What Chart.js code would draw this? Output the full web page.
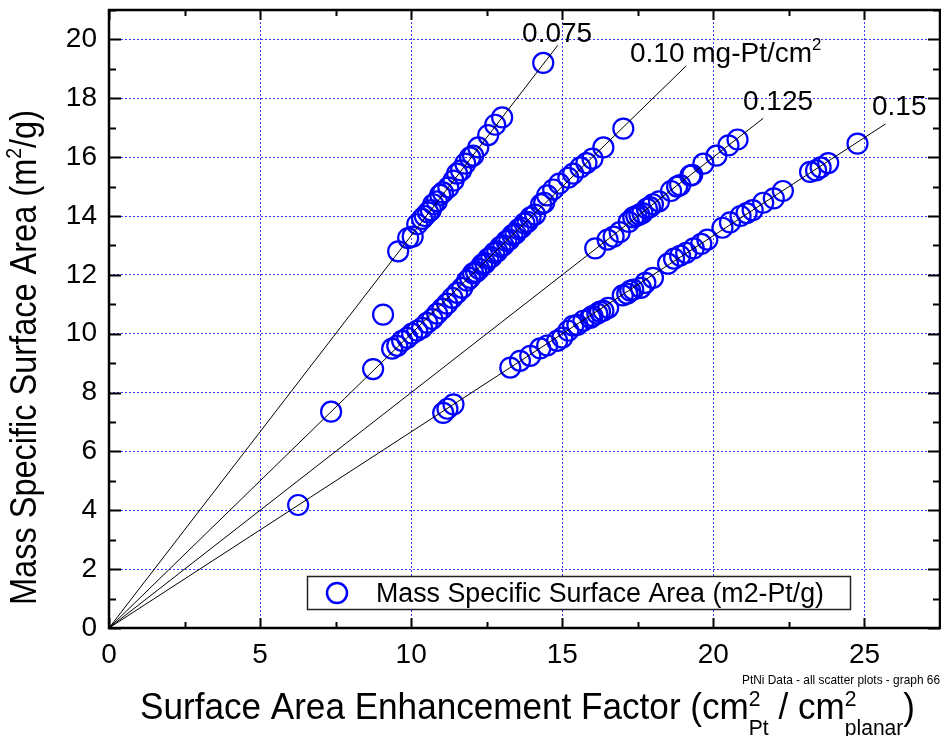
<!DOCTYPE html>
<html>
<head>
<meta charset="utf-8">
<script src="https://cdn.jsdelivr.net/npm/chart.js@4.4.1/dist/chart.umd.min.js"></script>
<style>
  html, body { margin: 0; padding: 0; background: #ffffff; }
  canvas { display: block; }
</style>
</head>
<body>
<canvas id="chart" width="941" height="736"></canvas>
<script>
// Surface area enhancement factor (cm2 Pt / cm2 planar) for each sample
const sefValues = [
  // ~0.075 mg/cm2 electrodes
  9.57, 9.9, 10.05, 10.2, 10.36, 10.45, 10.56, 10.65, 10.73, 10.85, 10.96, 11.05,
  11.23, 11.4, 11.52, 11.65, 11.79, 11.95, 12.05, 12.22, 12.55, 12.78, 13.01, 14.37,
  // stray sample
  9.07,
  // ~0.10 mg/cm2 electrodes
  7.35, 8.74, 9.37, 9.54, 9.7, 9.87, 10.03, 10.2, 10.36, 10.53, 10.7, 10.86,
  11.03, 11.19, 11.36, 11.52, 11.69, 11.85, 11.95, 12.05, 12.15, 12.25, 12.35, 12.45,
  12.55, 12.65, 12.75, 12.85, 12.95, 13.05, 13.15, 13.25, 13.35, 13.45, 13.55, 13.65,
  13.75, 13.85, 13.95, 14.1, 14.3, 14.4, 14.5, 14.7, 14.9, 15.2, 15.36, 15.6,
  15.8, 16.0, 16.36, 17.02,
  // ~0.125 mg/cm2 electrodes
  16.09, 16.5, 16.7, 16.9, 17.2, 17.35, 17.45, 17.55, 17.65, 17.8, 17.9, 18.0,
  18.2, 18.6, 18.8, 18.9, 19.24, 19.3, 19.67, 20.1, 20.5, 20.8,
  // ~0.15 mg/cm2 electrodes
  6.26, 11.06, 11.2, 11.4, 13.28, 13.6, 13.94, 14.27, 14.5, 14.83, 15.0, 15.2,
  15.36, 15.5, 15.7, 15.93, 16.0, 16.16, 16.25, 16.36, 16.52, 17.0, 17.15, 17.25,
  17.35, 17.6, 17.75, 18.0, 18.5, 18.7, 18.9, 19.1, 19.35, 19.6, 19.8, 20.3,
  20.55, 20.9, 21.1, 21.3, 21.65, 22.0, 22.3, 23.2, 23.4, 23.55, 23.8, 24.77
];

// Mass specific surface area (m2 Pt / g) for the same samples
const massAreaValues = [
  12.8, 13.25, 13.3, 13.72, 13.9, 14.0, 14.12, 14.2, 14.4, 14.5, 14.72, 14.8,
  14.97, 15.2, 15.44, 15.55, 15.78, 15.99, 16.05, 16.33, 16.75, 17.1, 17.35, 19.2,
  10.65,
  7.35, 8.8, 9.49, 9.59, 9.76, 9.86, 10.0, 10.1, 10.2, 10.37, 10.5, 10.68,
  10.85, 11.02, 11.22, 11.39, 11.56, 11.8, 11.9, 12.05, 12.1, 12.2, 12.35, 12.4,
  12.55, 12.6, 12.75, 12.8, 12.95, 13.0, 13.15, 13.2, 13.35, 13.4, 13.55, 13.6,
  13.75, 13.8, 13.95, 14.05, 14.4, 14.45, 14.7, 14.9, 15.1, 15.3, 15.44, 15.65,
  15.8, 15.95, 16.33, 16.97,
  12.9, 13.2, 13.3, 13.45, 13.8, 13.95, 14.0, 14.05, 14.1, 14.25, 14.3, 14.4,
  14.5, 14.85, 15.0, 15.05, 15.37, 15.4, 15.78, 16.05, 16.4, 16.6,
  4.18, 7.31, 7.45, 7.6, 8.85, 9.08, 9.25, 9.5, 9.6, 9.76, 9.87, 10.1,
  10.27, 10.3, 10.44, 10.54, 10.6, 10.68, 10.75, 10.78, 10.88, 11.3, 11.36, 11.46,
  11.5, 11.56, 11.73, 11.9, 12.38, 12.55, 12.65, 12.75, 12.9, 13.05, 13.2, 13.6,
  13.78, 14.0, 14.1, 14.2, 14.45, 14.6, 14.85, 15.5, 15.55, 15.65, 15.8, 16.46
];

// Constant-loading guide lines (mg-Pt/cm2), drawn from the origin to these ends
const loadingLabels = ['0.075', '0.10 mg-Pt/cm', '0.125', '0.15'];
const guideEndSef = [14.85, 19.1, 21.65, 25.7];
const guideEndMass = [19.8, 19.1, 17.32, 17.13];

// Axis tick labels
const xTickValues = [0, 5, 10, 15, 20, 25];
const yTickValues = [0, 2, 4, 6, 8, 10, 12, 14, 16, 18, 20];

const FONT = '"Liberation Sans", Arial, sans-serif';
const BLUE = '#0000ff';
const GRID = '#3a3aff';

const points = sefValues.map((x, i) => ({ x: x, y: massAreaValues[i] }));

const guideSets = guideEndSef.map((xe, i) => ({
  label: loadingLabels[i],
  data: [{ x: 0, y: 0 }, { x: xe, y: guideEndMass[i] }],
  showLine: true,
  borderColor: '#000000',
  borderWidth: 1,
  pointRadius: 0,
  fill: false
}));

function fontOf(size) { return size + 'px ' + FONT; }

function richWidth(ctx, runs, size) {
  let cx = 0, lastStart = 0;
  runs.forEach(r => {
    ctx.font = fontOf((r.k || 1) * size);
    const w = ctx.measureText(r.t).width;
    const start = r.stack ? lastStart : cx;
    cx = Math.max(cx, start + w);
    lastStart = start;
  });
  return cx;
}

function drawRich(ctx, runs, x, y, size, targetWidth, rot) {
  const natural = richWidth(ctx, runs, size);
  const sx = targetWidth ? targetWidth / natural : 1;
  ctx.save();
  ctx.translate(x, y);
  if (rot) ctx.rotate(rot);
  ctx.scale(sx, 1);
  ctx.fillStyle = '#000000';
  ctx.textAlign = 'left';
  ctx.textBaseline = 'alphabetic';
  let cx = 0, lastStart = 0;
  runs.forEach(r => {
    ctx.font = fontOf((r.k || 1) * size);
    const w = ctx.measureText(r.t).width;
    const start = r.stack ? lastStart : cx;
    ctx.fillText(r.t, start, (r.dy || 0) * size);
    cx = Math.max(cx, start + w);
    lastStart = start;
  });
  ctx.restore();
}

const decorations = {
  id: 'decorations',
  afterDatasetsDraw(chart) {
    const ctx = chart.ctx;
    const a = chart.chartArea;
    const xs = chart.scales.x, ys = chart.scales.y;

    // inward ticks on all four sides
    ctx.save();
    ctx.strokeStyle = '#000000';
    ctx.lineWidth = 2;
    ctx.beginPath();
    for (let v = 0; v <= 27.5; v += 2.5) {
      const px = Math.round(xs.getPixelForValue(v)) + 0.5;
      const len = (v % 5 === 0) ? 10 : 6;
      ctx.moveTo(px, a.bottom); ctx.lineTo(px, a.bottom - len);
      ctx.moveTo(px, a.top); ctx.lineTo(px, a.top + len);
    }
    for (let v = 0; v <= 21; v += 1) {
      const py = Math.round(ys.getPixelForValue(v)) + 0.5;
      const len = (v % 2 === 0) ? 12 : 7;
      ctx.moveTo(a.left, py); ctx.lineTo(a.left + len, py);
      ctx.moveTo(a.right, py); ctx.lineTo(a.right - len, py);
    }
    ctx.stroke();

    // frame
    ctx.lineWidth = 2.5;
    ctx.strokeRect(a.left, a.top, a.right - a.left, a.bottom - a.top);
    ctx.restore();

    // loading labels next to the guide lines
    const lbl = [
      { runs: [{ t: '0.075' }], x: 13.67, y: 19.91 },
      { runs: [{ t: '0.10 mg-Pt/cm' }, { t: '2', k: 0.6, dy: -0.43 }], x: 17.24, y: 19.23 },
      { runs: [{ t: '0.125' }], x: 20.98, y: 17.6 },
      { runs: [{ t: '0.15' }], x: 25.25, y: 17.43 }
    ];
    lbl.forEach(l => {
      drawRich(ctx, l.runs, xs.getPixelForValue(l.x), ys.getPixelForValue(l.y), 28, null, 0);
    });

    // legend box
    ctx.save();
    ctx.fillStyle = '#ffffff';
    ctx.fillRect(307, 576, 544, 34);
    ctx.strokeStyle = '#222222';
    ctx.lineWidth = 1.5;
    ctx.strokeRect(307.5, 576.5, 543, 33);
    ctx.strokeStyle = BLUE;
    ctx.lineWidth = 2.5;
    ctx.beginPath();
    ctx.arc(337, 593, 10, 0, Math.PI * 2);
    ctx.stroke();
    ctx.restore();
    drawRich(ctx, [{ t: chart.data.datasets[4].label }], 376, 602, 27, 448, 0);
  },
  afterDraw(chart) {
    const ctx = chart.ctx;
    // y axis title
    drawRich(ctx, [
      { t: 'Mass Specific Surface Area (m' },
      { t: '2', k: 0.6, dy: -0.42 },
      { t: '/g)' }
    ], 36, 605, 36, 495, -Math.PI / 2);
    // x axis title
    drawRich(ctx, [
      { t: 'Surface Area Enhancement Factor (cm' },
      { t: '2', k: 0.6, dy: -0.35 },
      { t: 'Pt', k: 0.6, dy: 0.42, stack: true },
      { t: ' / cm' },
      { t: '2', k: 0.6, dy: -0.35 },
      { t: 'planar', k: 0.6, dy: 0.42, stack: true },
      { t: ')' }
    ], 140, 719, 37, 775, 0);
    // graph note
    drawRich(ctx, [{ t: 'PtNi Data - all scatter plots - graph 66' }], 742, 684, 13, 198, 0);
  }
};

new Chart(document.getElementById('chart'), {
  type: 'scatter',
  data: {
    datasets: guideSets.concat([{
      label: 'Mass Specific Surface Area (m2-Pt/g)',
      data: points,
      pointStyle: 'circle',
      pointRadius: 10,
      pointBorderWidth: 2.2,
      borderColor: BLUE,
      pointBorderColor: BLUE,
      backgroundColor: 'rgba(0,0,0,0)',
      pointBackgroundColor: 'rgba(0,0,0,0)',
      showLine: false
    }])
  },
  options: {
    responsive: false,
    animation: false,
    layout: { autoPadding: false, padding: { top: 10, right: 1, left: 0, bottom: 0 } },
    plugins: {
      legend: { display: false },
      tooltip: { enabled: false }
    },
    scales: {
      x: {
        type: 'linear',
        min: 0,
        max: 27.5,
        afterBuildTicks: s => { s.ticks = xTickValues.map(v => ({ value: v })); },
        afterFit: s => { s.height = 108; s.paddingLeft = 0; s.paddingRight = 0; },
        ticks: {
          color: '#000000',
          font: { family: FONT, size: 28 },
          padding: 10,
          maxRotation: 0,
          autoSkip: false,
          callback: v => String(v)
        },
        grid: {
          drawTicks: false,
          lineWidth: 1,
          color: c => (c.tick && c.tick.value === 0) ? 'rgba(0,0,0,0)' : GRID
        },
        border: { display: false, dash: [2, 2] }
      },
      y: {
        type: 'linear',
        min: 0,
        max: 21,
        afterBuildTicks: s => { s.ticks = yTickValues.map(v => ({ value: v })); },
        afterFit: s => { s.width = 109; s.paddingTop = 0; s.paddingBottom = 0; },
        ticks: {
          color: '#000000',
          font: { family: FONT, size: 28 },
          padding: 12,
          autoSkip: false,
          callback: v => String(v)
        },
        grid: {
          drawTicks: false,
          lineWidth: 1,
          color: c => (c.tick && c.tick.value === 0) ? 'rgba(0,0,0,0)' : GRID
        },
        border: { display: false, dash: [2, 2] }
      }
    }
  },
  plugins: [decorations]
});
</script>
</body>
</html>
